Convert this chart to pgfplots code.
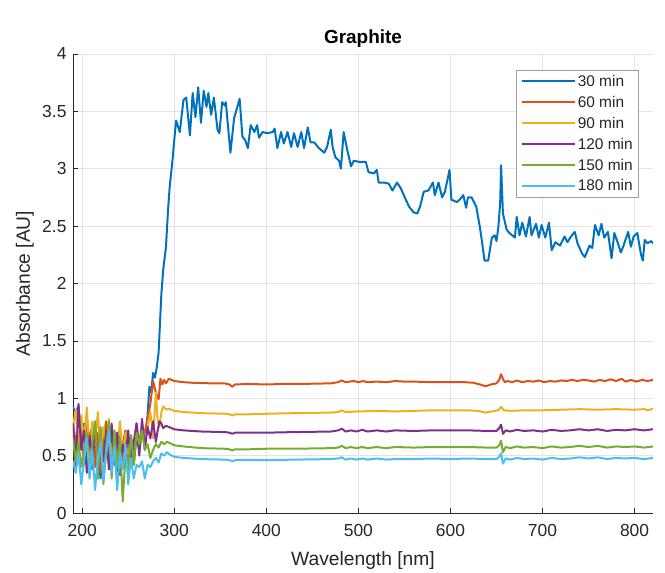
\documentclass[border=0pt]{standalone}
\usepackage{pgfplots}
\pgfplotsset{compat=1.18}
\usepackage{fontspec}
\setmainfont{Liberation Sans}

\definecolor{mblue}{rgb}{0,0.447,0.741}
\definecolor{morange}{rgb}{0.85,0.325,0.098}
\definecolor{myellow}{rgb}{0.929,0.694,0.125}
\definecolor{mpurple}{rgb}{0.494,0.184,0.556}
\definecolor{mgreen}{rgb}{0.466,0.674,0.188}
\definecolor{mcyan}{rgb}{0.301,0.745,0.933}
\definecolor{axgray}{rgb}{0.15,0.15,0.15}

\begin{document}
\begin{tikzpicture}
\path[use as bounding box] (-73bp,-60bp) rectangle (592bp,513bp);
\begin{axis}[
  scale only axis,
  width=580bp, height=459bp,
  xmin=190, xmax=820, ymin=0, ymax=4,
  xtick={200,300,...,800},
  ytick={0,0.5,...,4},
  axis x line*=bottom, axis y line*=left,
  x axis line style={-}, y axis line style={-},
  grid=major,
  grid style={gray!22, line width=0.7pt},
  axis line style={axgray, line width=0.7pt},
  tick style={axgray, line width=0.7pt},
  major tick length=5bp,
  tick align=inside,
  tick label style={text=axgray, font=\fontsize{17.5}{20}\selectfont},
  xticklabel style={yshift=-8bp},
  yticklabel style={xshift=-3bp},
  /pgf/number format/assume math mode=true,
  xlabel={Wavelength [nm]},
  ylabel={Absorbance [AU]},
  label style={text=axgray, font=\fontsize{19.3}{22}\selectfont},
  xlabel style={at={(axis description cs:0.5,0)}, anchor=north, yshift=-35bp},
  ylabel style={at={(axis description cs:-0.083,0.5)}, anchor=center},
  title={\textbf{Graphite}},
  title style={at={(axis description cs:0.5,1)}, anchor=base, yshift=5bp,
    font=\fontsize{19}{22}\selectfont},
  legend cell align=left,
  legend style={at={(0.976,0.966)}, anchor=north east, draw=gray!75,
    line width=0.7pt,
    font=\fontsize{15.5}{18}\selectfont, text=axgray,
    row sep=4.3bp, inner xsep=4bp, inner ysep=3bp},
  legend image code/.code={\draw[#1, line width=2.2bp] (0bp,0bp) -- (53bp,0bp);},
  every axis plot/.append style={line width=2pt, line join=round},
]
% 30 min
\addplot[mblue] coordinates {
(190,0.92)(193,0.88)(196,0.93)(199,0.62)(202,0.78)(205,0.45)(208,0.70)(211,0.38)
(214,0.74)(217,0.52)(220,0.30)(223,0.68)(226,0.48)(229,0.76)(232,0.40)(235,0.65)
(238,0.35)(241,0.70)(244,0.45)(247,0.62)(250,0.38)(253,0.58)(256,0.42)(259,0.66)
(262,0.55)(265,0.72)(268,0.62)(271,0.85)(273,1.10)(275,1.05)(277,1.22)(279,1.18)
(281,1.27)(283,1.40)(286,1.91)(288,2.12)(291,2.32)(293,2.61)(295,2.84)(298,3.07)
(300,3.25)(302,3.42)(306,3.32)(310,3.60)(313,3.62)(317,3.29)(320,3.66)(323,3.45)
(326,3.71)(329,3.40)(332,3.68)(335,3.54)(337,3.66)(340,3.47)(343,3.62)(347,3.34)
(349,3.31)(352,3.58)(355,3.55)(356,3.58)(361,3.14)(365,3.44)(371,3.61)(374,3.28)
(377,3.25)(380,3.18)(383,3.38)(387,3.32)(390,3.38)(392,3.27)(396,3.32)(401,3.31)
(407,3.32)(409,3.35)(412,3.18)(416,3.32)(419,3.22)(423,3.32)(427,3.19)(430,3.31)
(434,3.19)(438,3.32)(441,3.18)(445,3.36)(448,3.23)(452,3.23)(457,3.18)(463,3.14)
(466,3.19)(470,3.34)(472,3.19)(475,3.10)(479,3.07)(481,3.00)(484,3.32)(488,3.16)
(492,3.02)(495,3.07)(501,3.06)(508,3.06)(511,2.97)(517,2.96)(520,2.99)(522,2.88)
(528,2.88)(533,2.87)(537,2.81)(542,2.88)(546,2.83)(551,2.74)(555,2.67)(560,2.62)
(564,2.61)(567,2.67)(571,2.80)(576,2.81)(581,2.88)(583,2.77)(587,2.88)(591,2.75)
(594,2.80)(599,2.99)(601,2.73)(607,2.71)(610,2.73)(614,2.77)(617,2.66)(619,2.75)
(623,2.75)(628,2.67)(632,2.49)(634,2.38)(637,2.20)(641,2.20)(645,2.40)(648,2.42)
(650,2.37)(652,2.49)(654,2.70)(655,3.03)(657,2.61)(661,2.47)(664,2.44)(670,2.40)
(672,2.58)(675,2.42)(678,2.53)(682,2.41)(686,2.58)(688,2.42)(693,2.52)(696,2.40)
(699,2.51)(703,2.40)(707,2.53)(710,2.29)(714,2.36)(719,2.33)(724,2.41)(727,2.36)
(731,2.41)(735,2.45)(738,2.35)(743,2.26)(746,2.23)(751,2.33)(754,2.31)(757,2.51)
(761,2.42)(764,2.52)(767,2.40)(771,2.45)(775,2.22)(778,2.44)(782,2.35)(785,2.27)
(788,2.33)(793,2.45)(796,2.32)(799,2.41)(803,2.44)(807,2.25)(809,2.20)(811,2.38)
(814,2.35)(818,2.37)(820,2.35)
};
% 60 min
\addplot[morange] coordinates {
(190,0.80)(193,0.55)(196,0.90)(199,0.70)(202,0.42)(205,0.85)(208,0.60)(211,0.78)
(214,0.40)(217,0.70)(220,0.35)(223,0.62)(226,0.80)(229,0.45)(232,0.75)(235,0.50)
(238,0.68)(241,0.42)(244,0.60)(247,0.72)(250,0.45)(253,0.66)(256,0.50)(259,0.78)
(262,0.60)(265,0.75)(268,0.70)(271,0.82)(274,0.95)(277,1.15)(280,1.05)(283,0.99)
(285,1.17)(287,1.12)(289,1.16)(291,1.13)(294,1.17)(297,1.16)(300,1.15)(310,1.14)
(320,1.135)(340,1.13)(355,1.13)(360,1.12)(363,1.10)(366,1.12)(380,1.125)(400,1.12)
(420,1.125)(440,1.125)(470,1.13)(478,1.14)(482,1.155)(486,1.14)(490,1.145)(495,1.15)
(500,1.14)(505,1.15)(510,1.14)(520,1.145)(530,1.14)(540,1.15)(550,1.145)(560,1.145)
(580,1.14)(600,1.14)(615,1.14)(625,1.135)(632,1.12)(638,1.105)(644,1.12)(650,1.13)
(653,1.16)(655,1.21)(657,1.17)(659,1.14)(662,1.15)(667,1.14)(672,1.155)(678,1.14)
(684,1.15)(690,1.145)(696,1.155)(702,1.14)(708,1.15)(714,1.145)(720,1.155)(726,1.15)
(732,1.16)(738,1.15)(744,1.16)(750,1.155)(756,1.145)(762,1.16)(768,1.15)(774,1.165)
(780,1.15)(786,1.17)(790,1.145)(796,1.16)(802,1.145)(808,1.16)(814,1.15)(820,1.16)
};
% 90 min
\addplot[myellow] coordinates {
(190,0.75)(193,0.90)(196,0.55)(199,0.85)(202,0.62)(205,0.92)(208,0.50)(211,0.80)
(214,0.60)(217,0.88)(220,0.52)(223,0.75)(226,0.58)(229,0.82)(232,0.50)(235,0.72)
(238,0.55)(241,0.80)(244,0.48)(247,0.70)(250,0.52)(253,0.65)(256,0.58)(259,0.72)
(262,0.55)(265,0.70)(268,0.62)(271,0.75)(274,0.88)(277,0.65)(280,1.05)(282,0.80)
(284,0.75)(286,0.88)(288,0.93)(291,0.90)(294,0.91)(297,0.90)(300,0.89)(310,0.88)
(330,0.87)(355,0.865)(360,0.86)(363,0.85)(366,0.86)(380,0.86)(400,0.865)(430,0.87)
(470,0.875)(478,0.88)(482,0.895)(486,0.88)(500,0.885)(520,0.89)(540,0.885)(560,0.89)
(580,0.895)(600,0.895)(620,0.895)(630,0.89)(638,0.875)(645,0.885)(652,0.895)(655,0.925)
(658,0.895)(665,0.89)(680,0.895)(700,0.895)(720,0.90)(740,0.905)(760,0.90)(780,0.905)
(800,0.90)(810,0.905)(815,0.895)(820,0.91)
};
% 120 min
\addplot[mpurple] coordinates {
(190,0.78)(193,0.40)(196,0.95)(199,0.55)(202,0.72)(205,0.35)(208,0.68)(211,0.50)
(214,0.75)(217,0.30)(220,0.62)(223,0.45)(226,0.72)(229,0.38)(232,0.78)(235,0.42)
(238,0.70)(241,0.33)(244,0.60)(247,0.48)(250,0.72)(253,0.40)(256,0.62)(259,0.78)
(262,0.50)(265,0.82)(268,0.55)(271,0.75)(274,0.65)(277,0.80)(280,0.62)(282,0.72)
(284,0.80)(286,0.78)(288,0.74)(291,0.76)(294,0.75)(297,0.74)(300,0.73)(310,0.72)
(330,0.71)(355,0.705)(360,0.70)(363,0.69)(366,0.70)(380,0.70)(400,0.70)(430,0.705)
(470,0.71)(478,0.72)(482,0.735)(486,0.71)(492,0.72)(498,0.71)(504,0.725)(510,0.71)
(520,0.72)(530,0.71)(540,0.72)(560,0.715)(580,0.72)(600,0.72)(620,0.72)(640,0.715)
(650,0.715)(653,0.74)(655,0.77)(657,0.69)(660,0.72)(665,0.71)(672,0.725)(680,0.715)
(690,0.72)(700,0.71)(710,0.725)(720,0.715)(730,0.72)(740,0.73)(750,0.72)(760,0.73)
(770,0.715)(780,0.725)(790,0.72)(800,0.73)(810,0.72)(820,0.73)
};
% 150 min
\addplot[mgreen] coordinates {
(190,0.65)(193,0.45)(196,0.62)(199,0.40)(202,0.55)(205,0.70)(208,0.35)(211,0.60)
(214,0.80)(217,0.30)(220,0.75)(223,0.25)(226,0.58)(229,0.80)(232,0.30)(235,0.72)
(238,0.40)(241,0.65)(244,0.10)(247,0.50)(250,0.35)(253,0.68)(256,0.42)(259,0.70)
(262,0.60)(265,0.72)(268,0.55)(271,0.60)(274,0.48)(277,0.55)(280,0.60)(283,0.57)
(286,0.62)(289,0.60)(292,0.62)(295,0.61)(300,0.59)(310,0.58)(330,0.565)(355,0.56)
(360,0.555)(363,0.545)(366,0.555)(380,0.555)(400,0.56)(430,0.56)(470,0.565)(478,0.57)
(482,0.585)(486,0.565)(492,0.575)(498,0.565)(504,0.575)(510,0.565)(520,0.575)(530,0.565)
(540,0.575)(560,0.57)(580,0.575)(600,0.575)(620,0.575)(640,0.57)(650,0.57)(653,0.59)
(655,0.63)(657,0.53)(660,0.575)(665,0.565)(672,0.58)(680,0.57)(690,0.575)(700,0.565)
(710,0.58)(720,0.57)(730,0.575)(740,0.585)(750,0.575)(760,0.585)(770,0.57)(780,0.58)
(790,0.575)(800,0.58)(810,0.57)(820,0.58)
};
% 180 min
\addplot[mcyan] coordinates {
(190,0.45)(193,0.35)(196,0.52)(199,0.25)(202,0.45)(205,0.65)(208,0.30)(211,0.55)
(214,0.20)(217,0.48)(220,0.62)(223,0.28)(226,0.50)(229,0.72)(232,0.35)(235,0.58)
(238,0.20)(241,0.52)(244,0.38)(247,0.60)(250,0.25)(253,0.48)(256,0.30)(259,0.42)
(262,0.40)(265,0.45)(268,0.30)(271,0.42)(274,0.40)(277,0.45)(280,0.48)(283,0.44)
(286,0.52)(289,0.50)(292,0.53)(295,0.51)(300,0.49)(310,0.48)(330,0.47)(355,0.465)
(360,0.46)(363,0.45)(366,0.46)(380,0.46)(400,0.46)(430,0.465)(470,0.47)(478,0.475)
(482,0.485)(486,0.465)(492,0.475)(498,0.465)(504,0.475)(510,0.465)(520,0.475)(530,0.465)
(540,0.47)(560,0.47)(580,0.475)(600,0.47)(620,0.475)(640,0.47)(650,0.47)(653,0.49)
(655,0.52)(657,0.43)(660,0.475)(665,0.465)(672,0.48)(680,0.47)(690,0.475)(700,0.465)
(710,0.48)(720,0.47)(730,0.475)(740,0.485)(750,0.475)(760,0.485)(770,0.47)(780,0.48)
(790,0.475)(800,0.48)(810,0.47)(820,0.48)
};
\legend{30 min,60 min,90 min,120 min,150 min,180 min}
\end{axis}
\end{tikzpicture}
\end{document}
